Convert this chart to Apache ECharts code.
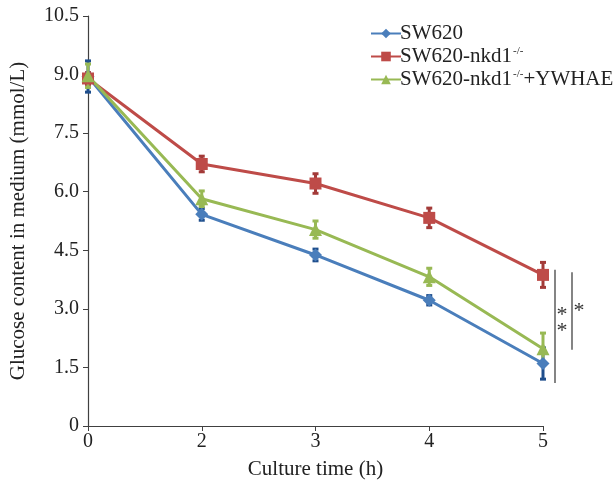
<!DOCTYPE html>
<html><head><meta charset="utf-8">
<script src="https://cdn.jsdelivr.net/npm/echarts@6/dist/echarts.min.js"></script>
<style>html,body{margin:0;padding:0;background:#fff}#c{width:614px;height:485px}</style>
</head><body><div id="c"></div>
<script>
const categories = ['0', '2', '3', '4', '5'];
const yTicks = [0, 1.5, 3.0, 4.5, 6.0, 7.5, 9.0, 10.5];
const sw620 = [8.95, 5.42, 4.38, 3.22, 1.60];
const sw620Err = [0.40, 0.15, 0.15, 0.12, 0.40];
const nkd1 = [8.90, 6.71, 6.21, 5.33, 3.87];
const nkd1Err = [0.15, 0.20, 0.25, 0.25, 0.32];
const ywhae = [8.97, 5.82, 5.03, 3.82, 1.98];
const ywhaeErr = [0.30, 0.20, 0.22, 0.22, 0.40];
const sigA = [1.10, 4.00];   // value range of "**" bracket
const sigB = [1.95, 3.94];   // value range of "*" bracket

const FONT = '"Liberation Serif","Times New Roman",serif';
const chart = echarts.init(document.getElementById('c'), null, {renderer: 'canvas'});

function errSeries(name, vals, errs, color) {
  return {
    type: 'custom', name: name + '_err', silent: true, z: 3,
    data: vals.map((v, i) => [i, v - errs[i], v + errs[i]]),
    renderItem: function (params, api) {
      const lo = api.coord([api.value(0), api.value(1)]);
      const hi = api.coord([api.value(0), api.value(2)]);
      const w = 3;
      const st = {stroke: color, lineWidth: 3};
      return {type: 'group', children: [
        {type: 'line', shape: {x1: lo[0], y1: lo[1], x2: hi[0], y2: hi[1]}, style: st},
        {type: 'line', shape: {x1: lo[0] - w, y1: lo[1], x2: lo[0] + w, y2: lo[1]}, style: st},
        {type: 'line', shape: {x1: hi[0] - w, y1: hi[1], x2: hi[0] + w, y2: hi[1]}, style: st}
      ]};
    }
  };
}

function lineSeries(name, vals, color, symbol, size) {
  return {
    type: 'line', name: name, data: vals, symbol: symbol, symbolSize: size, z: 4,
    lineStyle: {color: color, width: 3}, itemStyle: {color: color},
    emphasis: {disabled: true}
  };
}

const names = ['SW620', 'SW620-nkd1', 'SW620-nkd1+YWHAE'];
chart.setOption({
  animation: false,
  grid: {left: 87, right: 71, top: 16, bottom: 59},
  legend: {
    left: 365, top: 18, orient: 'vertical', itemGap: 2, itemWidth: 30, itemHeight: 12,
    data: names,
    formatter: function (n) {
      if (n === 'SW620') return '{t|SW620}';
      if (n === 'SW620-nkd1') return '{t|SW620-nkd1}{s|-/-}';
      return '{t|SW620-nkd1}{s|-/-}{t|+YWHAE}';
    },
    textStyle: {
      fontFamily: FONT, fontSize: 21, color: '#222', padding: [0, 0, 0, -6],
      rich: {
        t: {fontFamily: FONT, fontSize: 21, color: '#222'},
        s: {fontFamily: FONT, fontSize: 11, color: '#222', verticalAlign: 'top', padding: [0, 0, 9, 1]}
      }
    }
  },
  xAxis: {
    type: 'category', data: categories, boundaryGap: false,
    name: 'Culture time (h)', nameLocation: 'middle', nameGap: 33,
    nameTextStyle: {fontFamily: FONT, fontSize: 21, color: '#222'},
    axisLine: {lineStyle: {color: '#404040', width: 1.2}},
    axisTick: {alignWithLabel: true, length: 5, lineStyle: {color: '#404040'}},
    axisLabel: {fontFamily: FONT, fontSize: 20, color: '#222', margin: 6},
    splitLine: {show: false}
  },
  yAxis: {
    type: 'value', min: 0, max: 10.5, interval: 1.5,
    name: 'Glucose content in medium (mmol/L)', nameLocation: 'middle', nameGap: 59,
    nameTextStyle: {fontFamily: FONT, fontSize: 21, color: '#222'},
    axisLine: {show: true, lineStyle: {color: '#404040', width: 1.2}},
    axisTick: {show: true, length: 5, lineStyle: {color: '#404040'}},
    axisLabel: {fontFamily: FONT, fontSize: 20, color: '#222', margin: 9,
      formatter: function (v) { return v === 0 ? '0' : v.toFixed(1); }},
    splitLine: {show: false}
  },
  series: [
    lineSeries('SW620', sw620, '#4A7EBB', 'diamond', 13),
    lineSeries('SW620-nkd1', nkd1, '#BE4B48', 'rect', 12),
    lineSeries('SW620-nkd1+YWHAE', ywhae, '#98B954', 'triangle', 13),
    errSeries('SW620', sw620, sw620Err, '#1F4E8C'),
    errSeries('SW620-nkd1', nkd1, nkd1Err, '#A33A38'),
    errSeries('SW620-nkd1+YWHAE', ywhae, ywhaeErr, '#98B954')
  ]
});

const pA1 = chart.convertToPixel({xAxisIndex: 0, yAxisIndex: 0}, [4, sigA[0]]);
const pA2 = chart.convertToPixel({xAxisIndex: 0, yAxisIndex: 0}, [4, sigA[1]]);
const pB1 = chart.convertToPixel({xAxisIndex: 0, yAxisIndex: 0}, [4, sigB[0]]);
const pB2 = chart.convertToPixel({xAxisIndex: 0, yAxisIndex: 0}, [4, sigB[1]]);
const lx = pA1[0] + 12, rx = pA1[0] + 29;
const midA = (pA1[1] + pA2[1]) / 2, midB = (pB1[1] + pB2[1]) / 2;
chart.setOption({
  graphic: [
    {type: 'line', shape: {x1: lx, y1: pA2[1], x2: lx, y2: pA1[1]}, style: {stroke: '#333', lineWidth: 1.2}},
    {type: 'line', shape: {x1: rx, y1: pB2[1], x2: rx, y2: pB1[1]}, style: {stroke: '#333', lineWidth: 1.2}},
    {type: 'text', x: lx + 7, y: midA - 11, style: {text: '*', fontFamily: FONT, fontSize: 22, fill: '#333', align: 'center', verticalAlign: 'middle'}},
    {type: 'text', x: lx + 7, y: midA + 5, style: {text: '*', fontFamily: FONT, fontSize: 22, fill: '#333', align: 'center', verticalAlign: 'middle'}},
    {type: 'text', x: rx + 7, y: midB, style: {text: '*', fontFamily: FONT, fontSize: 22, fill: '#333', align: 'center', verticalAlign: 'middle'}}
  ]
});
</script></body></html>
